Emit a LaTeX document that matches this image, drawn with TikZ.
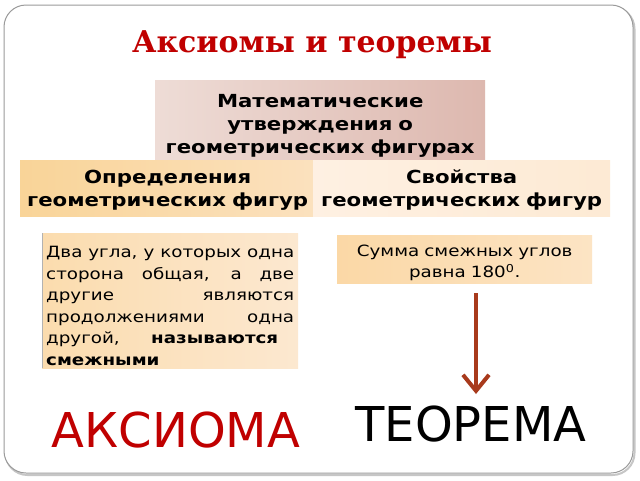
\documentclass[tikz,border=0pt]{standalone}
\usepackage{fontspec}
\setmainfont{DejaVu Sans}[FakeStretch=1.18]
\newfontfamily\wordfont{DejaVu Sans}
\newfontfamily\titlefont{DejaVu Serif}
\usetikzlibrary{arrows.meta}
\definecolor{slidered}{HTML}{C00000}
\definecolor{arrowbrown}{HTML}{A83A1C}
\definecolor{framegray}{HTML}{9A9A9A}
\tikzset{
    card/.style={anchor=north west, inner sep=2pt, align=center,
                 font=\fontsize{18}{23}\selectfont\bfseries},
    notecard/.style={anchor=north west, inner xsep=4pt, inner ysep=0pt,
                 font=\fontsize{15.5}{21.6}\selectfont},
    bigword/.style={inner sep=0pt, font=\fontsize{48}{50}\selectfont\wordfont},
}

\begin{document}
\begin{tikzpicture}[x=1pt, y=-1pt]
    \useasboundingbox (0,0) rectangle (640,480);

    % Slide frame
    \draw[gray!45, line width=2pt, rounded corners=22pt] (5.5,7) rectangle (634.5,475);
    \draw[framegray, line width=1pt, fill=white, rounded corners=22pt] (4,5) rectangle (633,473);

    % Title
    \node[anchor=base, font=\fontsize{30}{34}\selectfont\titlefont\bfseries, text=slidered] (title) at (312,52) {Аксиомы и теоремы};

    % Boxes
    \node[card, left color={rgb,255:red,238;green,220;blue,214}, right color={rgb,255:red,221;green,184;blue,175},
          minimum width=330pt, minimum height=80pt, text width=326pt] (stmt) at (155,80)
          {\rule{0pt}{24pt}Математические\\утверждения о\\геометрических фигурах};
    \node[card, left color={rgb,255:red,249;green,212;blue,152}, right color={rgb,255:red,251;green,225;blue,190},
          minimum width=295pt, minimum height=56pt, text width=291pt] (defn) at (20,160)
          {\rule{0pt}{18pt}Определения\\геометрических фигур};
    \node[card, left color={rgb,255:red,254;green,240;blue,226}, right color={rgb,255:red,253;green,234;blue,212},
          minimum width=297pt, minimum height=56pt, text width=293pt] (prop) at (313,160)
          {\rule{0pt}{18pt}Свойства\\геометрических фигур};

    % Examples
    \node[notecard, align=justify, left color={rgb,255:red,251;green,220;blue,174}, right color={rgb,255:red,252;green,232;blue,208},
          minimum width=256pt, minimum height=135pt, text width=248pt] (adjdef) at (42,233)
          {\rule{0pt}{22pt}Два угла, у которых одна\linebreak
           сторона общая, а две\linebreak
           другие являются\linebreak
           продолжениями одна\linebreak
           другой, \textbf{называются}\hspace*{16pt}\linebreak
           \textbf{смежными}};
    \draw[gray!60, line width=1pt] (adjdef.north west) -- (adjdef.south west);
    \node[notecard, align=center, left color={rgb,255:red,251;green,216;blue,166}, right color={rgb,255:red,252;green,228;blue,196},
          minimum width=255pt, minimum height=48pt, text width=247pt] (adjsum) at (337,235)
          {\rule{0pt}{19pt}Сумма смежных углов\\равна 180\textsuperscript{0}.};

    % Axiom and theorem
    \node[bigword, text=slidered] (axiom) at (176,430) {АКСИОМА};
    \node[bigword] (theorem) at (471,424) {ТЕОРЕМА};

    % Arrow
    \coordinate (from) at (476,293);
    \coordinate (to) at (476,394);
    \draw[arrowbrown, line width=4.5pt, -{Straight Barb[length=16pt, width=26pt, line width=4pt]}] (from) -- (to);
\end{tikzpicture}
\end{document}
